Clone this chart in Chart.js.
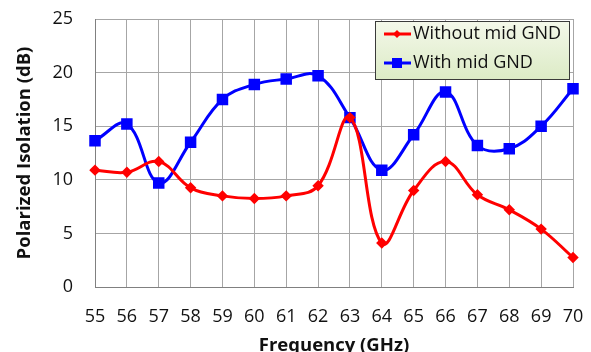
<!DOCTYPE html>
<html>
<head>
<meta charset="utf-8">
<script src="https://cdn.jsdelivr.net/npm/chart.js@4"></script>
<style>
  html, body { margin: 0; padding: 0; background: #fff; }
  #wrap { width: 591px; height: 352px; }
</style>
</head>
<body>
<div id="wrap"><canvas id="c" width="591" height="352"></canvas></div>
<script>
// frequency in GHz
const freqs = ['55','56','57','58','59','60','61','62','63','64','65','66','67','68','69','70'];
const withoutMid = [10.9, 10.7, 11.7, 9.25, 8.5, 8.25, 8.5, 9.45, 15.8, 4.1, 9.0, 11.7, 8.6, 7.2, 5.4, 2.75];
const withMid = [13.65, 15.2, 9.7, 13.5, 17.5, 18.9, 19.4, 19.7, 15.8, 10.9, 14.2, 18.2, 13.2, 12.9, 15.0, 18.5];
const yTicks = [0, 5, 10, 15, 20, 25];

const FONT = '"Open Sans", "DejaVu Sans", sans-serif';

// legend box drawn inside the plot, top right
const boxLegend = {
  id: 'boxLegend',
  afterDatasetsDraw(chart) {
    const ctx = chart.ctx;
    const x = 375, y = 21, w = 194, h = 58;
    ctx.save();
    const g = ctx.createLinearGradient(0, y, 0, y + h);
    g.addColorStop(0, '#f4f8ea');
    g.addColorStop(1, '#dcebc6');
    ctx.fillStyle = g;
    ctx.fillRect(x, y, w, h);
    ctx.strokeStyle = '#3a3a3a';
    ctx.lineWidth = 1;
    ctx.strokeRect(x + 0.5, y + 0.5, w, h);
    const rows = [34, 63];
    chart.data.datasets.forEach((ds, i) => {
      const ry = rows[i];
      ctx.strokeStyle = ds.borderColor;
      ctx.lineWidth = 3;
      ctx.beginPath();
      ctx.moveTo(384, ry);
      ctx.lineTo(411, ry);
      ctx.stroke();
      ctx.fillStyle = ds.borderColor;
      ctx.beginPath();
      if (ds.pointStyle === 'rect') {
        ctx.rect(397 - 5, ry - 5, 10, 10);
      } else {
        ctx.moveTo(397, ry - 4); ctx.lineTo(401, ry); ctx.lineTo(397, ry + 4); ctx.lineTo(393, ry);
      }
      ctx.fill();
      ctx.fillStyle = '#111';
      ctx.font = '18px ' + FONT;
      ctx.textBaseline = 'middle';
      ctx.fillText(ds.label, 413, ry);
    });
    ctx.restore();
  }
};

new Chart(document.getElementById('c'), {
  type: 'line',
  data: {
    labels: freqs,
    datasets: [
      {
        label: 'Without mid GND',
        data: withoutMid,
        borderColor: '#ff0000',
        backgroundColor: '#ff0000',
        borderWidth: 3,
        pointStyle: 'rectRot',
        pointRadius: 3.6,
        tension: 0.4
      },
      {
        label: 'With mid GND',
        data: withMid,
        borderColor: '#0000ff',
        backgroundColor: '#0000ff',
        borderWidth: 3,
        pointStyle: 'rect',
        pointRadius: 6,
        tension: 0.4
      }
    ]
  },
  options: {
    responsive: false,
    animation: false,
    layout: { autoPadding: false, padding: { top: 19, right: 18, left: 0, bottom: 0 } },
    plugins: {
      legend: { display: false },
      tooltip: { enabled: false }
    },
    scales: {
      x: {
        offset: false,
        // tick marks invisible, their length only spaces the labels
        grid: { color: '#a6a6a6', tickLength: 19, tickColor: 'rgba(0,0,0,0)' },
        border: { color: '#808080' },
        ticks: { color: '#111', font: { family: FONT, size: 18 }, padding: 0, maxRotation: 0, autoSkip: false },
        title: {
          display: true,
          text: 'Frequency (GHz)',
          color: '#111',
          font: { family: FONT, size: 18.5, weight: 'bold' },
          padding: { top: 0, bottom: -5 }
        },
        afterFit(s) { s.height = 65; }
      },
      y: {
        min: 0,
        max: 25,
        afterBuildTicks(s) { s.ticks = yTicks.map(v => ({ value: v })); },
        grid: { color: '#a6a6a6', tickLength: 22, tickColor: 'rgba(0,0,0,0)' },
        border: { color: '#808080' },
        ticks: { color: '#111', font: { family: FONT, size: 18 }, padding: 0 },
        title: {
          display: true,
          text: 'Polarized Isolation (dB)',
          color: '#111',
          font: { family: FONT, size: 18.5, weight: 'bold' },
          padding: { top: 14, bottom: 0 }
        },
        afterFit(s) { s.width = 95; }
      }
    }
  },
  plugins: [boxLegend]
});
</script>
</body>
</html>
